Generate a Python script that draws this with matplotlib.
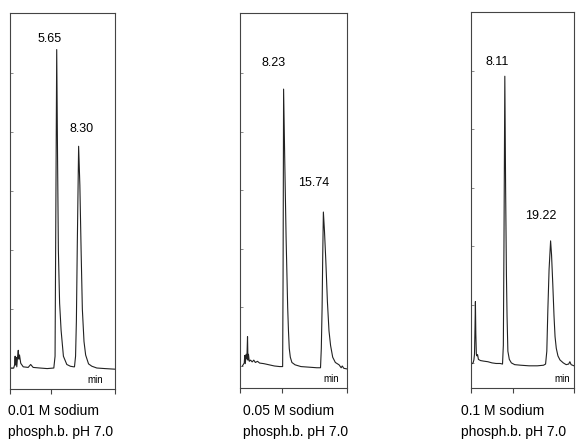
import matplotlib
matplotlib.use('Agg')
import matplotlib.pyplot as plt

plt.rcParams['font.family'] = ['Liberation Sans', 'DejaVu Sans']

# traces: time (min), signal (arb. units, 1 = one y-tick)
t1 = [0.0, 0.45, 0.55, 0.62, 0.68, 0.74, 0.82, 0.92, 1.0, 1.08, 1.15, 1.3, 1.6, 2.2, 2.5, 2.8,
      3.6, 4.5, 5.3, 5.45, 5.55, 5.65, 5.75, 5.85, 6.0, 6.18, 6.46, 6.87, 7.3, 7.7,
      7.8, 7.93, 8.03, 8.14, 8.30, 8.45, 8.6, 8.75, 8.95, 9.15, 9.5, 9.9, 10.5, 11.5, 12.7]
s1 = [0.0, 0.0, 0.05, 0.2, 0.05, 0.18, 0.02, 0.2, 0.3, 0.15, 0.22, 0.08, 0.02, 0.01, 0.06, 0.01,
      0.0, -0.01, 0.0, 0.2, 2.8, 5.4, 3.6, 2.0, 1.1, 0.64, 0.2, 0.06, 0.03, 0.02,
      0.02, 0.2, 0.8, 2.1, 3.76, 3.1, 2.0, 1.0, 0.45, 0.22, 0.07, 0.03, 0.0, -0.01, -0.02]

t2 = [0.45, 0.8, 0.9, 1.0, 1.15, 1.3, 1.42, 1.5, 1.6, 1.75, 2.0, 2.3, 2.6, 2.9, 3.3, 3.7,
      4.5, 5.5, 6.5, 7.5, 8.05, 8.13, 8.23, 8.45, 8.7, 9.0, 9.15, 9.3, 9.5, 9.8, 10.4,
      11.5, 13.0, 14.5, 15.2, 15.35, 15.5, 15.62, 15.74, 15.95, 16.2, 16.5, 16.8, 17.1,
      17.5, 18.0, 18.7, 19.1, 19.3, 19.6, 20.2]
s2 = [0.0, 0.05, 0.18, 0.04, 0.2, 0.12, 0.5, 0.1, 0.2, 0.08, 0.1, 0.07, 0.1, 0.06, 0.08, 0.05,
      0.04, 0.02, 0.0, -0.01, -0.01, 1.5, 4.73, 3.5, 2.2, 1.0, 0.6, 0.3, 0.15, 0.06, 0.02,
      -0.01, -0.02, -0.03, -0.03, 0.3, 1.0, 1.9, 2.63, 2.3, 1.8, 1.1, 0.6, 0.35,
      0.15, 0.06, 0.02, -0.03, 0.0, -0.04, -0.05]

t3 = [0.0, 0.4, 0.6, 0.75, 0.87, 0.97, 1.07, 1.2, 1.35, 1.5, 1.7, 2.2, 3.0, 4.0, 5.0, 6.0,
      7.0, 7.55, 7.75, 7.9, 8.11, 8.3, 8.5, 8.65, 8.85, 9.2, 9.7, 10.5, 12.0, 14.0, 16.0,
      17.5, 18.0, 18.3, 18.55, 18.85, 19.22, 19.45, 19.75, 20.05, 20.3, 20.6, 21.0, 21.5,
      22.3, 23.0, 23.6, 23.9, 24.2, 24.9]
s3 = [-0.02, 0.0, 0.05, 0.15, 0.6, 1.05, 0.5, 0.15, 0.12, 0.14, 0.06, 0.04, 0.03, 0.02, 0.0, -0.01,
      -0.01, -0.02, 0.3, 2.0, 4.91, 3.0, 1.5, 0.8, 0.2, 0.06, 0.0, -0.03, -0.04, -0.05, -0.05,
      -0.04, -0.02, 0.2, 0.9, 1.6, 2.09, 1.85, 1.35, 0.8, 0.45, 0.25, 0.12, 0.05,
      0.0, -0.03, -0.02, 0.02, -0.03, -0.05]

peaks1 = [5.65, 8.30]
peaks2 = [8.23, 15.74]
peaks3 = [8.11, 19.22]

captions = ["0.01 M sodium\nphosph.b. pH 7.0",
            "0.05 M sodium\nphosph.b. pH 7.0",
            "0.1 M sodium\nphosph.b. pH 7.0"]

fig = plt.figure(figsize=(5.83, 4.40), dpi=100)

W, H = 583.0, 440.0
def box(l, r, top, bot):
    return [l / W, 1 - bot / H, (r - l) / W, (bot - top) / H]

setups = [
    # rect, xlim, mid tick, ylim, label offsets (pt), "min" x, caption x
    (box(10, 115, 13, 389), (0, 12.7), 5, (-0.356, 6.02), [(-5.1, 7.9), (1.8, 12.2)], 0.81, 8),
    (box(240, 347, 13, 388), (0, 20.2), 8, (-0.376, 6.03), [(-6.9, 19.1), (-6.8, 21.2)], 0.85, 243),
    (box(471, 574, 12, 388), (-0.1, 24.9), 10, (-0.43, 6.01), [(-5.3, 10.4), (-6.8, 18.0)], 0.89, 461),
]
traces = [(t1, s1, peaks1), (t2, s2, peaks2), (t3, s3, peaks3)]

for (rect, xl, mid, yl, offs, minx, capx), (t, s, peaks), cap in zip(setups, traces, captions):
    ax = fig.add_axes(rect)
    ax.plot(t, s, color='#222222', lw=0.8)
    ax.set_xlim(*xl)
    ax.set_ylim(*yl)
    ax.set_xticks([0, mid, xl[1]])
    ax.set_xticklabels([])
    ax.set_yticks(range(6))
    ax.set_yticklabels([])
    ax.tick_params(axis='x', direction='out', length=3.5, width=0.8, color='#444444')
    ax.tick_params(axis='y', direction='in', length=2, width=0.6, color='#777777')
    for sp in ax.spines.values():
        sp.set_color('#444444')
        sp.set_linewidth(0.8)
    for pk, (dx, dy) in zip(peaks, offs):
        ax.annotate(f'{pk:.2f}', xy=(pk, s[t.index(pk)]), xytext=(dx, dy),
                    textcoords='offset points', ha='center', va='center', fontsize=9)
    ax.text(minx, 0.025, 'min', transform=ax.transAxes, fontsize=7,
            ha='center', va='center')
    fig.text(capx / W, 1 - 404 / H, cap, fontsize=10, ha='left', va='top',
             linespacing=1.6)

fig.savefig('out.png', dpi=100)
